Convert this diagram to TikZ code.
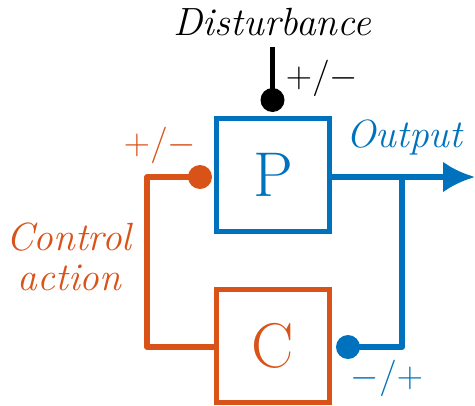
\documentclass[tikz,border=0pt]{standalone}
\usepackage{amsmath}
\usepackage{tikz}
\usetikzlibrary{arrows.meta, positioning}
\definecolor{cblue}{RGB}{0,114,189}
\definecolor{corange}{RGB}{217,83,25}

\begin{document}
\begin{tikzpicture}[font=\fontsize{22.4}{27}\selectfont,line width=3.2pt,block/.style={draw,rectangle,minimum width=2.26cm,minimum height=2.26cm,font=\fontsize{36}{42}\selectfont,inner sep=0pt},dot/.style={circle,fill,inner sep=0pt,minimum size=4.8mm},arrow/.style={-{Latex[length=6.4mm,width=6.2mm]}}]
\useasboundingbox (0,0) rectangle (9.5,8.1);
\node[block, cblue] (plant) at (5.46,4.6){P};
\node[block, corange] (ctrl) at (5.46,1.18){C};
\node[dot] (ddot) at (5.45,6.1){};
\coordinate (dtop) at (5.45,7.16);
\node (dist) at (5.45,7.66){\textit{Disturbance}};
\node (dsign) at (6.44,6.54){$+/-$};
\node[dot, cblue] (fdot) at (6.96,1.16){};
\node[dot, corange] (udot) at (4.0,4.56){};
\coordinate (branch) at (8.04,4.56);
\coordinate (out) at (9.5,4.56);
\coordinate (fcorner) at (8.04,1.16);
\coordinate (ucorner) at (2.94,1.16);
\coordinate (utop) at (2.94,4.56);
\node[cblue] (outlbl) at (8.1,5.36){\textit{Output}};
\node[cblue] (fsign) at (7.74,0.54){$-/+$};
\node[corange] (usign) at (3.2,5.2){$+/-$};
\node[corange, align=center] (ulbl) at (1.4,2.96){\textit{Control}\\[-4pt]\textit{action}};
\draw (dtop) -- (ddot.center);
\draw[cblue, arrow] (plant.east |- out) -- (out); \draw[cblue, line join=round] (branch) -- (fcorner) -- (fdot.center);
\draw[corange, line join=round] (ctrl.west |- ucorner) -- (ucorner) -- (utop) -- (udot.center);
\end{tikzpicture}
\end{document}
